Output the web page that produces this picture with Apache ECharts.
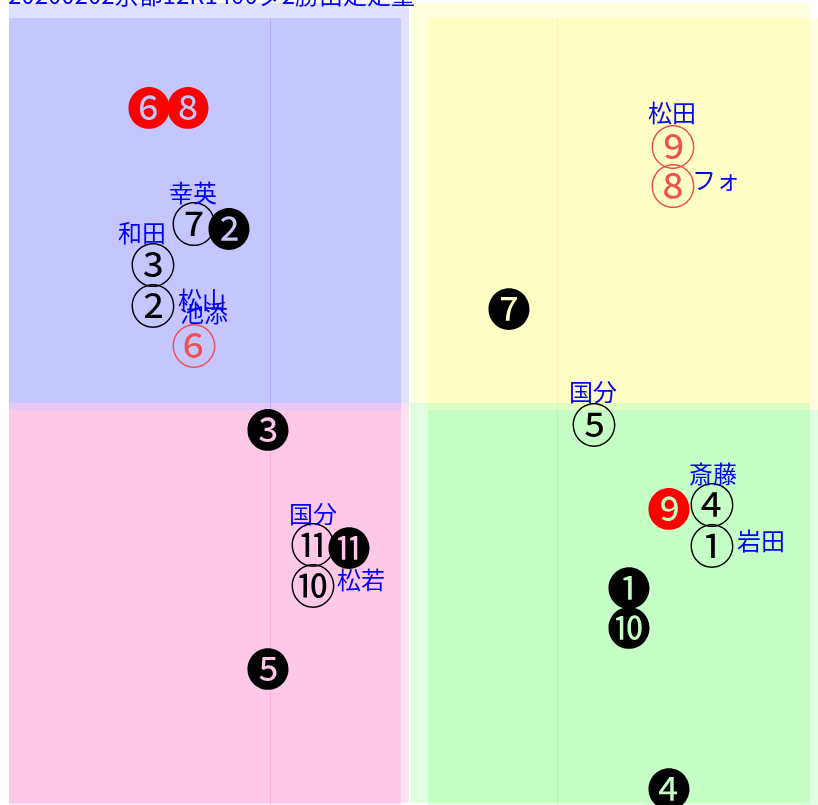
<!DOCTYPE html>
<html>
<head>
<meta charset="utf-8">
<script src="https://cdn.jsdelivr.net/npm/echarts@6/dist/echarts.min.js"></script>
<style>
  html, body { margin: 0; padding: 0; background: #fff; }
  #main { width: 818px; height: 805px; }
</style>
</head>
<body>
<div id="main"></div>
<script>
// タイトル
const titleText = '20200202京都12R1400ダ2勝出走定量';

// 馬番記号 (赤塗り)
const redMarks = ['❻', '❽', '❾'];
const redX = [149, 188, 669];
const redY = [108, 108, 509];

// 馬番記号 (赤枠)
const pinkMarks = ['⑥', '⑨', '⑧'];
const pinkX = [194, 673, 673];
const pinkY = [346, 147, 186];

// 馬番記号 (黒枠)
const ringMarks = ['⑦', '③', '②', '⑤', '⑪', '⑩', '④', '①'];
const ringX = [194, 153, 153, 594, 313, 313, 712, 712];
const ringY = [224, 265, 306, 425, 545, 586, 505, 546];

// 馬番記号 (黒塗り)
const solidMarks = ['❷', '❼', '❸', '⓫', '❺', '❶', '❿', '❹'];
const solidX = [229, 509, 268, 349, 268, 629, 629, 669];
const solidY = [229, 309, 430, 548, 669, 588, 628, 789];

// 騎手名
const jockeys = ['幸英', '和田', '松山', '池添', '松田', 'フォ', '国分', '国分', '松若', '斎藤', '岩田'];
const jockeyX = [193, 142, 202, 204, 672, 716, 593, 313, 361, 713, 761];
const jockeyY = [193, 233, 300, 313, 113, 180, 392, 514, 580, 474, 541];

// 区画 (2枚重ね)
const quadrants = [
  { color: 'rgba(0,0,255,0.12)',   a: [[9, 3], [409, 403]],     b: [[9, 18], [401, 410]] },
  { color: 'rgba(255,255,0,0.12)', a: [[410, 3], [810, 403]],   b: [[428, 18], [818, 410]] },
  { color: 'rgba(255,20,147,0.12)', a: [[9, 403], [409, 803]],  b: [[9, 410], [401, 805]] },
  { color: 'rgba(0,255,0,0.12)',   a: [[410, 403], [810, 803]], b: [[428, 410], [818, 805]] }
];
const guideLines = [
  { x: 270, y: [18, 410], color: 'rgba(0,0,255,0.12)' },
  { x: 270, y: [410, 805], color: 'rgba(255,20,147,0.15)' },
  { x: 557, y: [18, 410], color: 'rgba(200,255,0,0.25)' },
  { x: 557, y: [410, 805], color: 'rgba(0,255,0,0.15)' }
];

const toPoints = (names, xs, ys) => names.map((n, i) => ({ name: n, value: [xs[i], ys[i]] }));

const markFont = 'Noto Sans CJK JP';
const markSeries = (names, xs, ys, color, size, font) => ({
  type: 'scatter',
  symbolSize: 0,
  z: 5,
  itemStyle: { opacity: 1 },
  data: toPoints(names, xs, ys),
  label: {
    show: true,
    position: 'inside',
    formatter: p => p.name,
    color: color,
    opacity: 1,
    fontSize: size,
    fontFamily: font || markFont
  },
  emphasis: { disabled: true }
});

const chart = echarts.init(document.getElementById('main'));

const areaData = [];
quadrants.forEach(q => {
  [q.a, q.b].forEach(r => {
    areaData.push([{ coord: r[0], itemStyle: { color: q.color } }, { coord: r[1] }]);
  });
});

chart.setOption({
  animation: false,
  title: {
    text: titleText,
    left: 8,
    top: -17,
    padding: 0,
    textStyle: { color: '#0000ff', fontSize: 24, fontWeight: 'normal', fontFamily: 'Noto Sans CJK JP' }
  },
  grid: { left: 0, right: 0, top: 0, bottom: 0 },
  xAxis: { type: 'value', min: 0, max: 818, show: false },
  yAxis: { type: 'value', min: 0, max: 805, inverse: true, show: false },
  series: [
    {
      type: 'scatter',
      data: [],
      z: 1,
      silent: true,
      markArea: { silent: true, data: areaData },
      markLine: {
        silent: true,
        symbol: 'none',
        label: { show: false },
        data: guideLines.map(g => [
          { coord: [g.x, g.y[0]], lineStyle: { color: g.color, width: 1, type: 'solid' } },
          { coord: [g.x, g.y[1]] }
        ])
      }
    },
    markSeries(redMarks, redX, redY, '#ff0000', 44),
    markSeries(pinkMarks, pinkX, pinkY, '#f05050', 46),
    markSeries(ringMarks, ringX, ringY, '#000000', 46),
    markSeries(solidMarks, solidX, solidY, '#000000', 44),
    markSeries(jockeys, jockeyX, jockeyY, '#0000ff', 24)
  ]
});
</script>
</body>
</html>
